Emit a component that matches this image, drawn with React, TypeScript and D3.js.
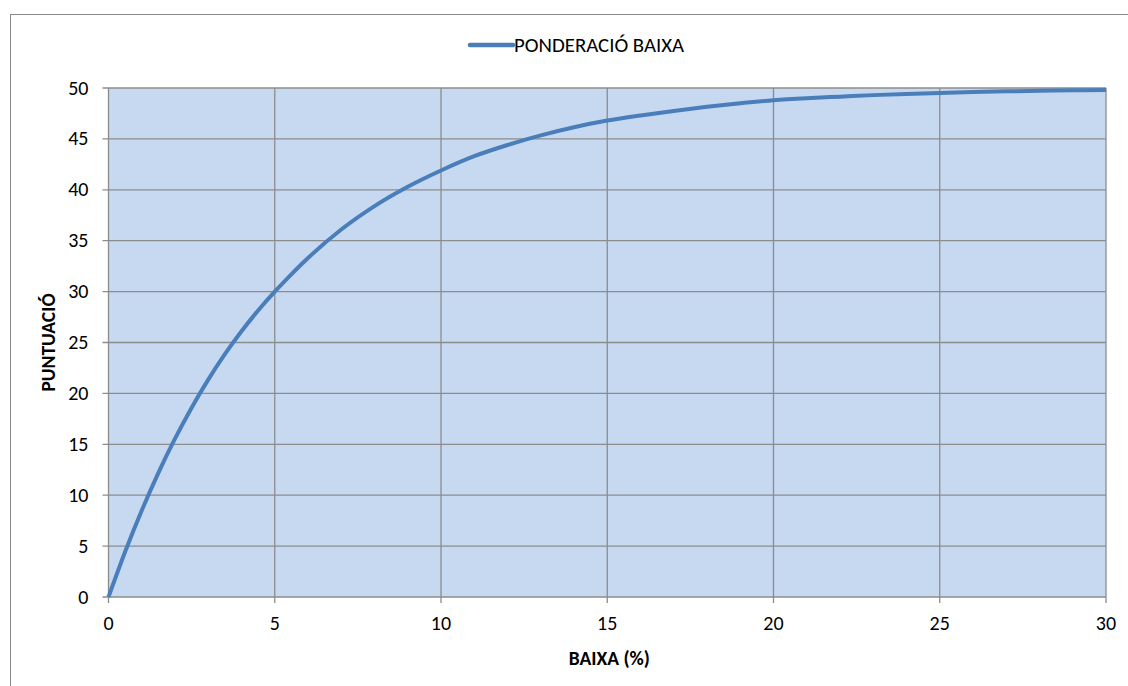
import React from "react";
import * as d3 from "d3";

const xValues = [0, 0.5, 1, 1.5, 2, 2.5, 3, 3.5, 4, 4.5, 5, 5.5, 6, 7, 8, 9, 10, 11, 12, 13, 14, 15, 16, 17, 18, 19, 20, 21, 22, 23, 24, 25, 26, 27, 28, 29, 30];
const yValues = [0, 4.45, 8.5, 12.2, 15.55, 18.6, 21.35, 23.85, 26.1, 28.15, 30.0, 31.7, 33.3, 36.1, 38.4, 40.3, 41.9, 43.3, 44.4, 45.35, 46.15, 46.8, 47.3, 47.75, 48.15, 48.5, 48.8, 49.0, 49.15, 49.3, 49.42, 49.52, 49.6, 49.67, 49.72, 49.77, 49.8];
const xTicks = [0, 5, 10, 15, 20, 25, 30];
const yTicks = [0, 5, 10, 15, 20, 25, 30, 35, 40, 45, 50];
const seriesName = "PONDERACIÓ BAIXA";
const xTitle = "BAIXA (%)";
const yTitle = "PUNTUACIÓ";

const W = 1128;
const H = 686;
const left = 108.5;
const right = 1106;
const top = 88;
const bottom = 597;
const font = "Carlito, Lato, 'Open Sans', sans-serif";
const gridColor = "#8c8c8c";
const lineColor = "#4a7ebb";

export default function App() {
  const x = d3.scaleLinear().domain([0, 30]).range([left, right]);
  const y = d3.scaleLinear().domain([0, 50]).range([bottom, top]);
  const pts = xValues.map((v, i) => [v, yValues[i]] as [number, number]);
  const line = d3
    .line<[number, number]>()
    .x((d) => x(d[0]))
    .y((d) => y(d[1]))
    .curve(d3.curveMonotoneX);

  return (
    <svg
      width={W}
      height={H}
      style={{ position: "absolute", left: 0, top: 0, background: "#fff" }}
      fontFamily={font}
    >
      <rect x={10.5} y={14.5} width={1300} height={1000} fill="#fff" stroke="#8a8a8a" strokeWidth={1} />
      <rect x={left} y={top} width={right - left} height={bottom - top} fill="#c6d9f0" />
      {yTicks.map((t) => (
        <g key={"y" + t}>
          <line x1={left - 6} x2={right} y1={y(t)} y2={y(t)} stroke={gridColor} strokeWidth={1.3} />
          <text x={88.5} y={y(t) + 6.5} textAnchor="end" fontSize={20} fill="#000">
            {t}
          </text>
        </g>
      ))}
      {xTicks.map((t) => (
        <g key={"x" + t}>
          <line x1={x(t)} x2={x(t)} y1={top} y2={bottom + 6} stroke={gridColor} strokeWidth={1.3} />
          <text x={x(t)} y={630} textAnchor="middle" fontSize={20} fill="#000">
            {t}
          </text>
        </g>
      ))}
      <path d={line(pts) || ""} fill="none" stroke={lineColor} strokeWidth={4} strokeLinejoin="round" />
      <text x={(left + right) / 2 + 2} y={665} textAnchor="middle" fontSize={19.5} fontWeight="bold" fill="#000">
        {xTitle}
      </text>
      <text
        transform={`translate(55, ${(top + bottom) / 2}) rotate(-90)`}
        textAnchor="middle"
        fontSize={19.5}
        fontWeight="bold"
        fill="#000"
      >
        {yTitle}
      </text>
      <line x1={470} x2={513} y1={45} y2={45} stroke={lineColor} strokeWidth={4.5} strokeLinecap="round" />
      <text x={514} y={51.5} fontSize={20.8} fill="#000">
        {seriesName}
      </text>
    </svg>
  );
}
